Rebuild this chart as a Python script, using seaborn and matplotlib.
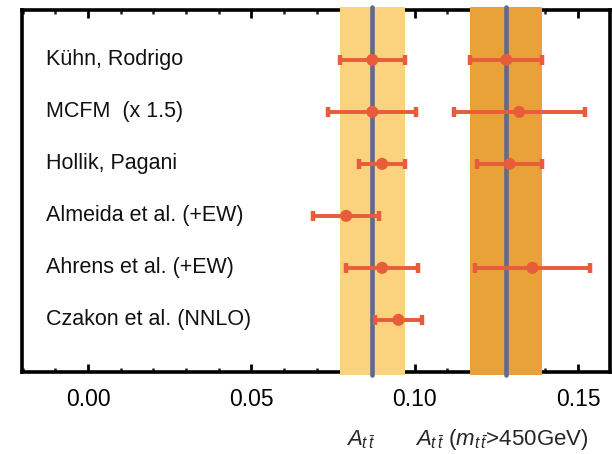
import numpy as np
import pandas as pd
import matplotlib
matplotlib.use("Agg")
import matplotlib.pyplot as plt
import seaborn as sns
from matplotlib.ticker import MultipleLocator, FormatStrFormatter

sns.set_theme(style="white")
plt.rcParams["font.family"] = ["Liberation Sans", "DejaVu Sans"]
plt.rcParams["mathtext.fontset"] = "custom"
plt.rcParams["mathtext.rm"] = "Liberation Sans"
plt.rcParams["mathtext.it"] = "Liberation Sans:italic"

# Theory predictions for the ttbar asymmetry
models = ["Kühn, Rodrigo", "MCFM  (x 1.5)", "Hollik, Pagani",
          "Almeida et al. (+EW)", "Ahrens et al. (+EW)", "Czakon et al. (NNLO)"]
incl_val = [0.087, 0.087, 0.090, 0.079, 0.090, 0.095]
incl_err = [0.010, 0.0135, 0.007, 0.010, 0.011, 0.0073]
# high-mass (m_tt > 450 GeV) predictions; NaN where not available
high_val = [0.128, 0.132, 0.129, np.nan, 0.136, np.nan]
high_err = [0.011, 0.020, 0.010, np.nan, 0.0175, np.nan]

# reference bands: central value and half-width
band_incl = (0.087, 0.010)
band_high = (0.128, 0.011)

band_colors = ["#FBD27E", "#E9A237"]
line_color = "#5F6B8C"
point_color = "#E85C3C"

df = pd.DataFrame({"model": models, "row": np.arange(len(models)),
                   "incl": incl_val, "incl_err": incl_err,
                   "high": high_val, "high_err": high_err})

fig = plt.figure(figsize=(6.12, 4.54), dpi=100)
ax = fig.add_axes([0.036, 0.181, 0.961, 0.797])

for (c, w), col in zip([band_incl, band_high], band_colors):
    ax.axvspan(c - w, c + w, ymin=-0.008, ymax=1.008, color=col, lw=0,
               zorder=3, clip_on=False)
    ax.axvline(c, ymin=-0.008, ymax=1.008, color=line_color, lw=3.3,
               zorder=3.5, clip_on=False)

for vcol, ecol in [("incl", "incl_err"), ("high", "high_err")]:
    sub = df.dropna(subset=[vcol])
    ax.errorbar(sub[vcol], sub["row"], xerr=sub[ecol], fmt="none",
                ecolor=point_color, elinewidth=2.8, capsize=3.4,
                capthick=3.2, zorder=4)
    sns.scatterplot(data=sub, x=vcol, y="row", ax=ax, color=point_color,
                    s=75, edgecolor="none", zorder=5, legend=False)

for i, name in enumerate(models):
    ax.text(0.041, i, name, transform=ax.get_yaxis_transform(),
            ha="left", va="center", fontsize=15.5, color="#111111")

ax.set_xlim(-0.0202, 0.1598)
ax.set_ylim(6.0, -0.96)
ax.set_xlabel("")
ax.set_ylabel("")
ax.set_yticks([])
ax.xaxis.set_major_locator(MultipleLocator(0.05))
ax.xaxis.set_minor_locator(MultipleLocator(0.01))
ax.xaxis.set_major_formatter(FormatStrFormatter("%.2f"))
ax.tick_params(axis="x", which="major", direction="in", length=6, width=2,
               top=True, bottom=True, labelsize=16.5, pad=12, colors="black")
ax.tick_params(axis="x", which="minor", direction="in", length=3, width=1.8,
               top=True, bottom=True)
for s in ax.spines.values():
    s.set_color("black")
    s.set_linewidth(2.6)
    s.set_zorder(2)

fig.text(361 / 612, 1 - 440 / 454, r"$A_{t\,\bar{t}}$", ha="center",
         va="center", fontsize=16)
fig.text(502 / 612, 1 - 440 / 454,
         r"$A_{t\,\bar{t}}$ $(m_{t\,\bar{t}}$>450GeV)", ha="center",
         va="center", fontsize=16)

fig.savefig("out.png", dpi=100, facecolor="white")
